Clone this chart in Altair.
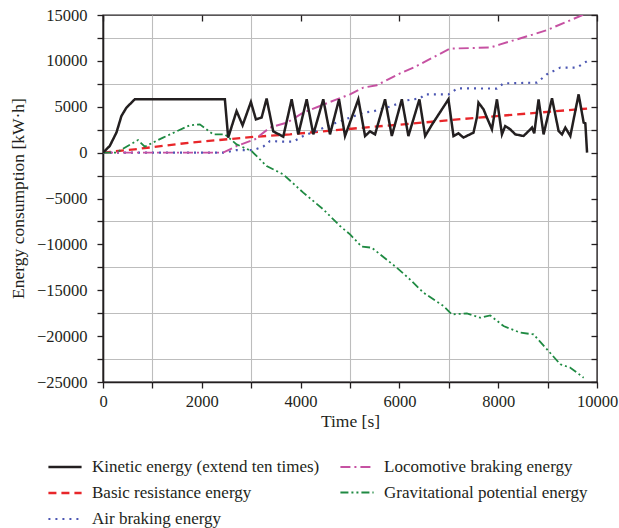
import altair as alt
import pandas as pd

# ---------------- data ----------------
kinetic_t = [0, 136, 272, 373, 474, 643, 2467, 2534, 2704, 2826, 2994, 3095, 3211, 3312,
             3446, 3649, 3819, 3953, 4123, 4257, 4459, 4595, 4778, 4899, 5169, 5305, 5406,
             5507, 5710, 5846, 6049, 6182, 6405, 6521, 6663, 6993, 7095, 7196, 7297, 7500,
             7569, 7601, 7703, 7771, 7873, 7974, 8076, 8142, 8244, 8345, 8513, 8615, 8684,
             8730, 8817, 8919, 9089, 9223, 9292, 9359, 9460, 9628, 9730, 9764, 9799]
kinetic_e = [0, 720, 2180, 3990, 4900, 5810, 5810, 1640, 4530, 2980, 5520, 3630, 3820, 5890,
             2320, 1740, 5810, 1990, 5810, 1990, 5810, 1990, 5810, 1810, 5810, 1810, 2320,
             1990, 5810, 1810, 5810, 1810, 5810, 1810, 3080, 5810, 1810, 2100, 1640, 2180,
             3850, 5450, 4720, 3820, 2540, 5810, 1990, 2900, 2540, 1990, 1810, 2350, 2730,
             2100, 5810, 1990, 5920, 2350, 1990, 2730, 1810, 6350, 3270, 3190, 0]

basic_t = [0, 643, 1757, 3109, 3784, 5406, 6014, 7433, 9799]
basic_e = [0, 360, 1090, 1740, 1990, 2790, 3050, 3740, 4800]

air_t = [0, 2467, 2704, 3040, 3243, 3379, 3649, 3851, 4054, 4392, 4731, 5001, 5270, 5473,
         5846, 6150, 6420, 6521, 6993, 7176, 7974, 8108, 8785, 8988, 9257, 9596, 9799]
air_e = [0, 0, 280, 280, 650, 1260, 1200, 1200, 1810, 2540, 3270, 3820, 4360, 4500,
         5080, 5700, 5920, 6350, 6350, 7010, 6980, 7550, 7630, 8540, 9270, 9270, 9980]

loco_t = [0, 2432, 2704, 3075, 3379, 3724, 4054, 4392, 4731, 5001, 5270, 5542, 6014, 6284,
          7028, 7838, 8041, 8716, 8988, 9799]
loco_e = [0, 0, 720, 1450, 2730, 3270, 4360, 5080, 5810, 6350, 7090, 7340, 8640, 9270,
          11340, 11450, 11800, 12890, 13360, 15200]

grav_t = [0, 272, 709, 845, 1216, 1757, 1960, 2230, 2467, 2704, 3008, 3312, 3649, 4054,
          4459, 4798, 5001, 5238, 5440, 5947, 6217, 6486, 6892, 7062, 7366, 7636, 7838,
          8108, 8445, 8716, 8988, 9257, 9460, 9730]
grav_e = [0, 0, 1370, 650, 1640, 2980, 3080, 1990, 1990, 900, 170, -1460, -2370, -4360,
          -6180, -8000, -8910, -10250, -10360, -12540, -13840, -15260, -16720, -17630,
          -17520, -17990, -17740, -18900, -19620, -19810, -21440, -23070, -23440, -24530]

# legend order (column-major in a 2-column legend)
series_names = ["Kinetic energy (extend ten times)", "Basic resistance energy",
                "Air braking energy", "Locomotive braking energy",
                "Gravitational potential energy"]
series_colors = ["#231f20", "#e8262a", "#4b56b2", "#c651a2", "#1f8a42"]
series_dashes = [[1, 0], [8, 5], [2, 5], [10, 4, 2, 4], [8, 3, 2, 3, 2, 3]]
series_widths = [2.5, 1.8, 1.8, 1.8, 1.8]

x_ticks = list(range(0, 10001, 1000))
y_ticks = list(range(-25000, 15001, 2500))
x_top_ticks = list(range(0, 10001, 2000))

# ---------------- table ----------------
frames = []
for name, t, e in [
    (series_names[1], basic_t, basic_e),
    (series_names[2], air_t, air_e),
    (series_names[3], loco_t, loco_e),
    (series_names[4], grav_t, grav_e),
    (series_names[0], kinetic_t, kinetic_e),
]:
    frames.append(pd.DataFrame({"series": name, "t": t, "e": e, "i": range(len(t))}))
df = pd.concat(frames, ignore_index=True)

FONT = "Liberation Serif"
INK = "#231f20"
GRID = "#bdbdbd"

x_axis = alt.Axis(
    values=x_ticks, format="d",
    labelExpr="datum.value % 2000 == 0 ? datum.label : ''",
    labelOverlap=False, labelFlush=False,
    grid=True, gridColor=GRID, gridWidth=1.1,
    gridOpacity={"condition": {"test": "datum.value % 2000 != 0", "value": 1}, "value": 0},
    tickSize=6, tickWidth=1.3, tickColor=INK,
    domainColor=INK, domainWidth=1.6,
    labelFont=FONT, labelFontSize=16.5, labelColor=INK, labelPadding=5,
    title="Time [s]", titleFont=FONT, titleFontSize=17.5, titleFontWeight="normal",
    titleColor=INK, titlePadding=3,
)
y_axis = alt.Axis(
    values=y_ticks, format="d",
    labelExpr="datum.value % 5000 == 0 ? datum.label : ''",
    labelOverlap=False, labelFlush=False,
    grid=True, gridColor=GRID, gridWidth=1.1,
    gridOpacity={"condition": {"test": "datum.value % 5000 != 0", "value": 1}, "value": 0},
    tickSize=6, tickWidth=1.3, tickColor=INK,
    domainColor=INK, domainWidth=1.6,
    labelFont=FONT, labelFontSize=16.5, labelColor=INK, labelPadding=10,
    title="Energy consumption [kW·h]", titleFont=FONT, titleFontSize=17.5,
    titleFontWeight="normal", titleColor=INK,
    titleX=-85, titleY=183, titleAngle=270, titleAlign="center", titleBaseline="middle",
)

xs = alt.Scale(domain=[0, 10000], nice=False)
ys = alt.Scale(domain=[-25000, 15000], nice=False)

legend_cfg = dict(
    title=None, orient="none", legendX=-56, legendY=434,
    columns=2, direction="vertical", symbolType="stroke", symbolSize=1100,
    symbolStrokeWidth=1.9, labelFont=FONT, labelFontSize=17,
    labelColor=INK, labelOffset=9, columnPadding=16, rowPadding=0,
    labelLimit=400,
)

lines = alt.Chart(df).mark_line(clip=True).encode(
    x=alt.X("t:Q", scale=xs, axis=x_axis),
    y=alt.Y("e:Q", scale=ys, axis=y_axis),
    color=alt.Color("series:N", scale=alt.Scale(domain=series_names, range=series_colors),
                    legend=alt.Legend(**legend_cfg)),
    strokeDash=alt.StrokeDash("series:N",
                              scale=alt.Scale(domain=series_names, range=series_dashes),
                              legend=alt.Legend(**legend_cfg)),
    strokeWidth=alt.StrokeWidth("series:N",
                                scale=alt.Scale(domain=series_names, range=series_widths),
                                legend=None),
    order="i:Q",
)

mirror = alt.Chart(df).mark_line(strokeOpacity=0).encode(
    x=alt.X("t:Q", scale=xs, axis=alt.Axis(
        orient="top", values=x_top_ticks, labels=False, grid=False, domain=False,
        tickSize={"expr": "-6"}, tickWidth=1.3, tickColor=INK, title=None)),
    y=alt.Y("e:Q", scale=ys, axis=alt.Axis(
        orient="right", values=y_ticks, labels=False, grid=False, domain=False,
        tickSize={"expr": "-6"}, tickWidth=1.3, tickColor=INK, title=None)),
    detail="series:N",
)

chart = alt.layer(lines, mirror).resolve_axis(x="independent", y="independent").properties(
    width=494, height=367,
    autosize=alt.AutoSizeParams(type="none"),
    padding={"left": 103, "top": 15, "right": 22, "bottom": 146},
    background="white",
).configure_view(stroke=INK, strokeWidth=1.4)

chart.save("out.html", embed_options={"renderer": "svg", "actions": False})
